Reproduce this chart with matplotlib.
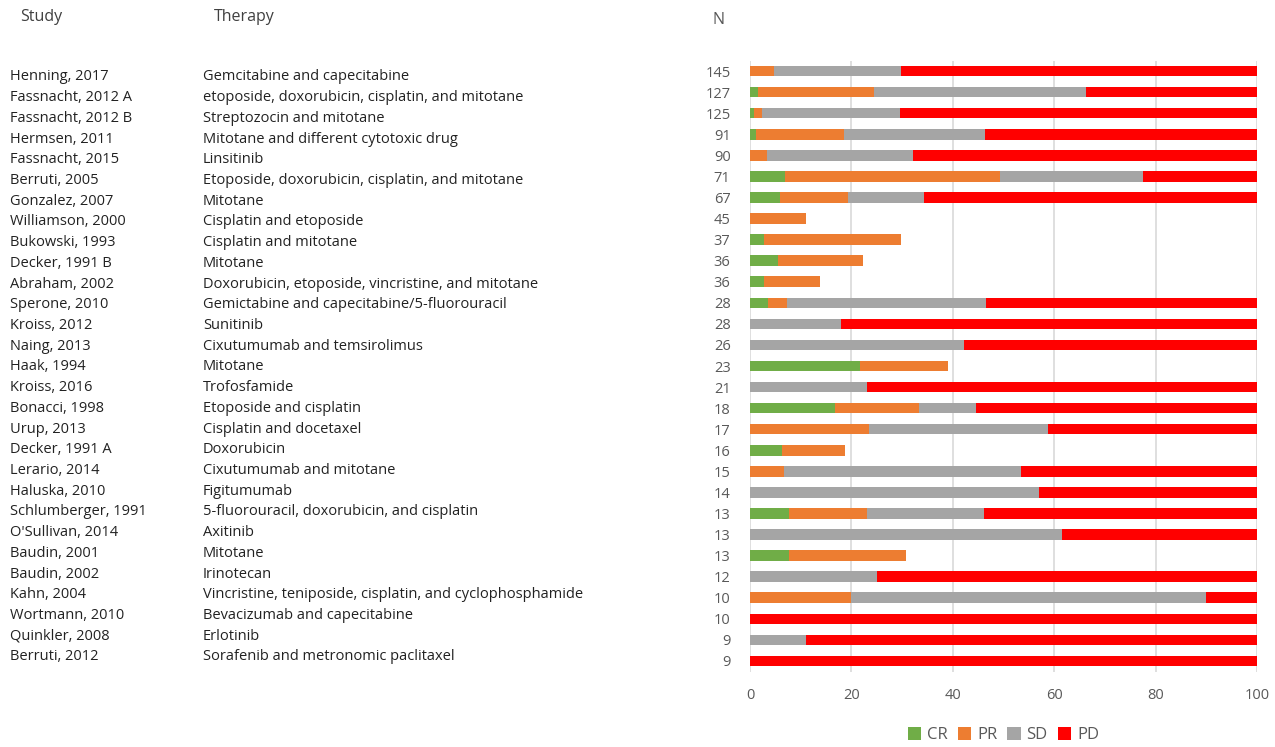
import numpy as np
from matplotlib import pyplot as plt

studies = ["Henning, 2017", "Fassnacht, 2012 A", "Fassnacht, 2012 B", "Hermsen, 2011",
           "Fassnacht, 2015", "Berruti, 2005", "Gonzalez, 2007", "Williamson, 2000",
           "Bukowski, 1993", "Decker, 1991 B", "Abraham, 2002", "Sperone, 2010",
           "Kroiss, 2012", "Naing, 2013", "Haak, 1994", "Kroiss, 2016", "Bonacci, 1998",
           "Urup, 2013", "Decker, 1991 A", "Lerario, 2014", "Haluska, 2010",
           "Schlumberger, 1991", "O'Sullivan, 2014", "Baudin, 2001", "Baudin, 2002",
           "Kahn, 2004", "Wortmann, 2010", "Quinkler, 2008", "Berruti, 2012"]
therapies = ["Gemcitabine and capecitabine",
             "etoposide, doxorubicin, cisplatin, and mitotane",
             "Streptozocin and mitotane",
             "Mitotane and different cytotoxic drug",
             "Linsitinib",
             "Etoposide, doxorubicin, cisplatin, and mitotane",
             "Mitotane",
             "Cisplatin and etoposide",
             "Cisplatin and mitotane",
             "Mitotane",
             "Doxorubicin, etoposide, vincristine, and mitotane",
             "Gemictabine and capecitabine/5-fluorouracil",
             "Sunitinib",
             "Cixutumumab and temsirolimus",
             "Mitotane",
             "Trofosfamide",
             "Etoposide and cisplatin",
             "Cisplatin and docetaxel",
             "Doxorubicin",
             "Cixutumumab and mitotane",
             "Figitumumab",
             "5-fluorouracil, doxorubicin, and cisplatin",
             "Axitinib",
             "Mitotane",
             "Irinotecan",
             "Vincristine, teniposide, cisplatin, and cyclophosphamide",
             "Bevacizumab and capecitabine",
             "Erlotinib",
             "Sorafenib and metronomic paclitaxel"]
n_pts = [145, 127, 125, 91, 90, 71, 67, 45, 37, 36, 36, 28, 28, 26, 23, 21, 18, 17,
         16, 15, 14, 13, 13, 13, 12, 10, 10, 9, 9]

cr = [0, 1.5, 0.8, 1.1, 0, 7.0, 6.0, 0, 2.7, 5.6, 2.8, 3.6, 0, 0, 21.7, 0, 16.7, 0,
      6.25, 0, 0, 7.7, 0, 7.7, 0, 0, 0, 0, 0]
pr = [4.8, 22.9, 1.6, 17.5, 3.3, 42.3, 13.4, 11.1, 27.0, 16.7, 11.1, 3.6, 0, 0, 17.4, 0,
      16.7, 23.5, 12.5, 6.7, 0, 15.4, 0, 23.1, 0, 20.0, 0, 0, 0]
sd = [24.9, 41.9, 27.2, 27.7, 28.9, 28.2, 14.9, 0, 0, 0, 0, 39.3, 17.9, 42.3, 0, 23.1,
      11.1, 35.3, 0, 46.7, 57.1, 23.1, 61.5, 0, 25.0, 70.0, 0, 11.1, 0]
pd_ = [70.3, 33.7, 70.4, 53.7, 67.8, 22.5, 65.7, 0, 0, 0, 0, 53.6, 82.1, 57.7, 0, 76.9,
       55.6, 41.2, 0, 46.7, 42.9, 53.8, 38.5, 0, 75.0, 10.0, 100, 88.9, 100]

series = [("CR", cr, "#70AD47"), ("PR", pr, "#ED7D31"),
          ("SD", sd, "#A5A5A5"), ("PD", pd_, "#FF0000")]

plt.rcParams['font.family'] = ['Open Sans', 'DejaVu Sans']

W, H = 1275, 747
fig = plt.figure(figsize=(W / 100, H / 100), dpi=100)
ax = fig.add_axes([750 / W, 1 - 671.5 / H, (1257 - 750) / W, (671.5 - 60.5) / H])

y = np.arange(len(n_pts))
left = np.zeros(len(n_pts))
for name, vals, col in series:
    vals = np.array(vals, dtype=float)
    ax.barh(y, vals, left=left, height=0.5, color=col, label=name, zorder=3)
    left += vals

ax.set_ylim(len(n_pts) - 0.5, -0.5)
ax.set_xlim(0, 100)
ax.set_xticks(range(0, 101, 20))
ax.set_yticks(y)
ax.set_yticklabels([str(n) for n in n_pts])
ax.tick_params(axis='both', length=0, colors='#595959', labelsize=10.5)
ax.tick_params(axis='y', pad=14)
ax.tick_params(axis='x', pad=12)
ax.xaxis.grid(True, color='#d9d9d9', linewidth=1.2, zorder=0)
for s in ax.spines.values():
    s.set_visible(False)

leg = ax.legend(loc='center', bbox_to_anchor=(0.5, -0.104), ncol=4, frameon=False,
                fontsize=12, handlelength=0.8, handleheight=0.8, handletextpad=0.35,
                columnspacing=0.6, labelcolor='#595959')

# left-hand table
fig.text(20 / W, 1 - 17 / H, "Study", fontsize=11.5, color='#404040', va='center')
fig.text(214 / W, 1 - 17 / H, "Therapy", fontsize=11.5, color='#404040', va='center')
fig.text(719 / W, 1 - 20 / H, "N", fontsize=11.5, color='#595959', va='center', ha='center')
for i, (s, t) in enumerate(zip(studies, therapies)):
    yy = 1 - (77 + i * 20.71) / H
    fig.text(10 / W, yy, s, fontsize=10.5, color='#222222', va='center')
    fig.text(203 / W, yy, t, fontsize=10.5, color='#222222', va='center')

fig.savefig("out.png", dpi=100)
